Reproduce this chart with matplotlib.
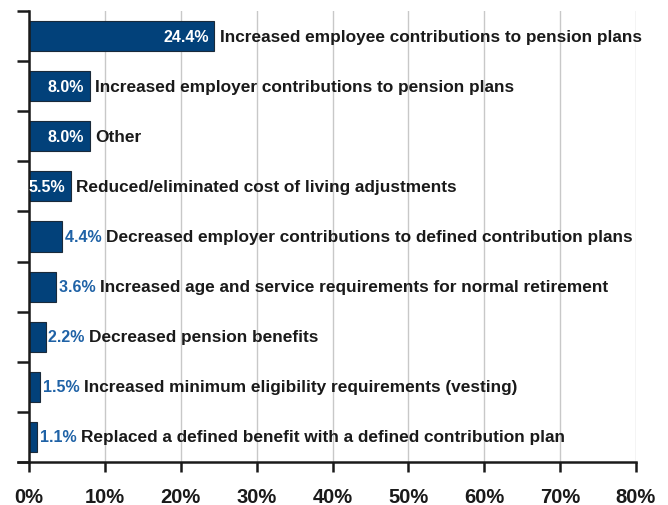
import numpy as np
import matplotlib.pyplot as plt

categories = [
    "Increased employee contributions to pension plans",
    "Increased employer contributions to pension plans",
    "Other",
    "Reduced/eliminated cost of living adjustments",
    "Decreased employer contributions to defined contribution plans",
    "Increased age and service requirements for normal retirement",
    "Decreased pension benefits",
    "Increased minimum eligibility requirements (vesting)",
    "Replaced a defined benefit with a defined contribution plan",
]
values = [24.4, 8.0, 8.0, 5.5, 4.4, 3.6, 2.2, 1.5, 1.1]
xticks = [0, 10, 20, 30, 40, 50, 60, 70, 80]

bar_color = '#02417a'
val_blue = '#1f62a6'

plt.rcParams['font.family'] = ['Liberation Sans', 'DejaVu Sans']

fig = plt.figure(figsize=(6.68, 5.06), dpi=100)
ax = fig.add_axes([29 / 668, 43 / 506, 607 / 668, 451 / 506])

y = np.arange(len(categories))
ax.barh(y, values, height=0.6, color=bar_color, edgecolor='#1a2a3a', linewidth=0.8, zorder=2)

for yi, v, lab in zip(y, values, categories):
    txt = f"{v:.1f}%"
    if v >= 5:
        ax.annotate(txt, (v, yi), xytext=(-4, 0), textcoords='offset points',
                    ha='right', va='center', color='white', fontsize=11.5, fontweight='bold', zorder=3)
        ax.annotate(lab, (v, yi), xytext=(4, 0), textcoords='offset points',
                    ha='left', va='center', color='#1a1a1a', fontsize=12.4, fontweight='bold', zorder=3)
    else:
        t = ax.annotate(txt + ' ', (v, yi), xytext=(2, 0), textcoords='offset points',
                        ha='left', va='center', color=val_blue, fontsize=11.5, fontweight='bold', zorder=3)
        fig.canvas.draw()
        bb = t.get_window_extent()
        ax.annotate(lab, (v, yi), xytext=(2 + bb.width * 72 / 100, 0), textcoords='offset points',
                    ha='left', va='center', color='#1a1a1a', fontsize=12.4, fontweight='bold', zorder=3)

ax.set_xlim(0, 80)
ax.set_ylim(len(categories) - 0.5, -0.5)
ax.set_xticks(xticks)
ax.set_xticklabels([f"{t}%" for t in xticks], fontsize=14.5, fontweight='bold', color='#1a1a1a')
ax.set_yticks(np.arange(-0.5, len(categories) + 0.5, 1))
ax.set_yticklabels([])
ax.tick_params(axis='y', length=9, width=1.8, color='#1a1a1a')
ax.tick_params(axis='x', length=7, width=1.8, color='#1a1a1a', pad=11)

ax.grid(axis='x', color='#c8c8c8', linewidth=1.0, zorder=0)
ax.set_axisbelow(True)
for s in ['top', 'right']:
    ax.spines[s].set_visible(False)
for s in ['left', 'bottom']:
    ax.spines[s].set_linewidth(1.8)
    ax.spines[s].set_color('#1a1a1a')
ax.spines['bottom'].set_bounds(-1.5, 80)
ax.spines['bottom'].set_clip_on(False)

fig.savefig('out.png', dpi=100)
